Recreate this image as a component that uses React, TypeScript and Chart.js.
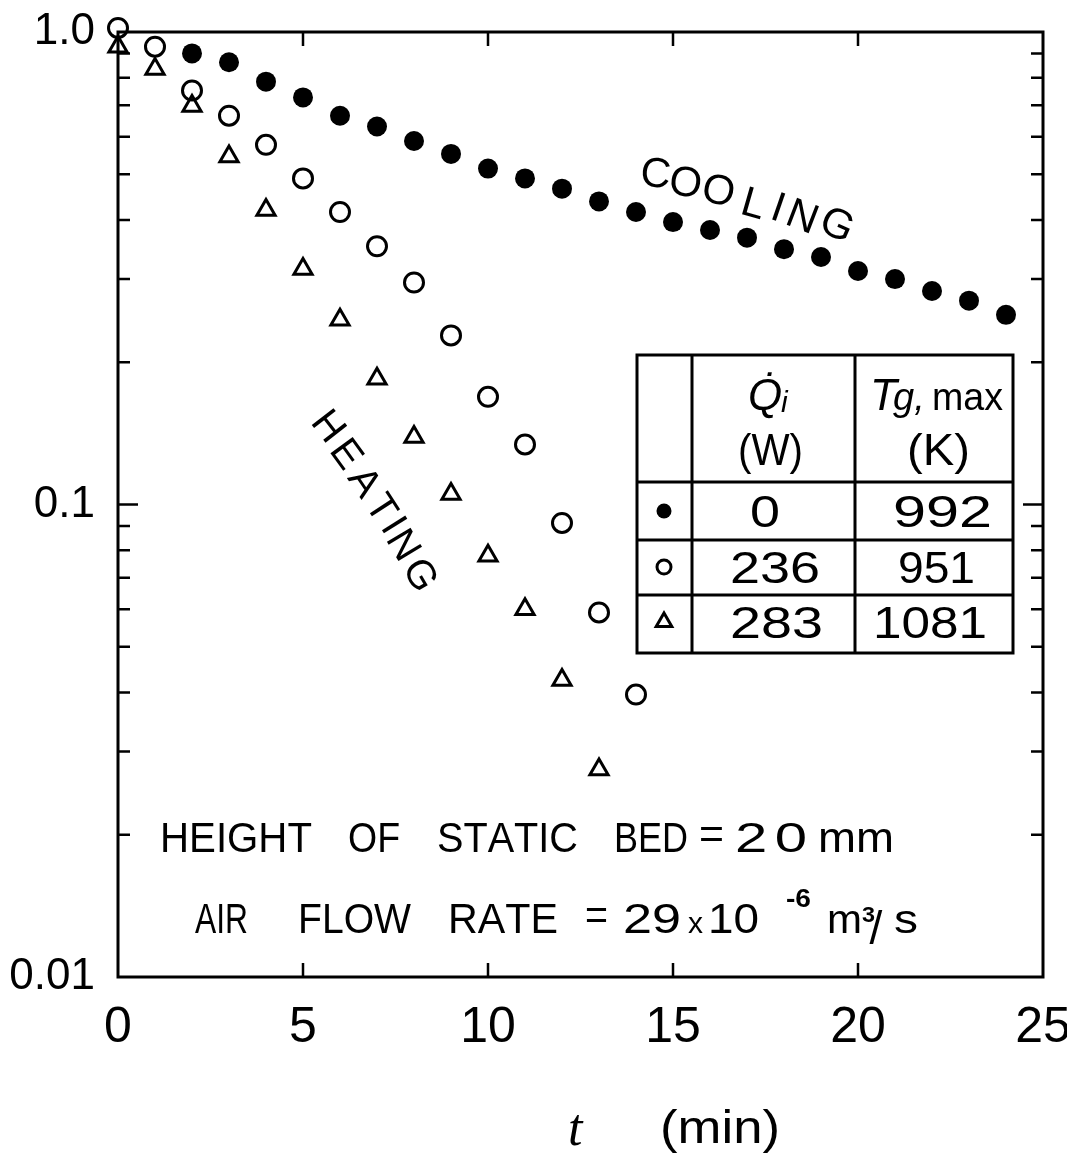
import React, { useEffect, useRef } from 'react';
import { Chart, registerables } from 'chart.js';

Chart.register(...registerables);

// ---- data ----
const coolingMinutes = [2, 3, 4, 5, 6, 7, 8, 9, 10, 11, 12, 13, 14, 15, 16, 17, 18, 19, 20, 21, 22, 23, 24];
const coolingRatio = [0.901, 0.863, 0.785, 0.727, 0.665, 0.631, 0.588, 0.552, 0.514, 0.49, 0.466, 0.438, 0.416, 0.396, 0.381, 0.367, 0.347, 0.334, 0.312, 0.3, 0.283, 0.27, 0.252];

const heat236Minutes = [0, 1, 2, 3, 4, 5, 6, 7, 8, 9, 10, 11, 12, 13, 14];
const heat236Ratio = [1.02, 0.931, 0.752, 0.665, 0.577, 0.49, 0.416, 0.352, 0.295, 0.228, 0.169, 0.134, 0.0914, 0.0591, 0.0396];

const heat283Minutes = [0, 1, 2, 3, 4, 5, 6, 7, 8, 9, 10, 11, 12, 13];
const heat283Ratio = [0.931, 0.835, 0.697, 0.545, 0.42, 0.315, 0.246, 0.1845, 0.139, 0.1053, 0.0779, 0.06, 0.0425, 0.0275];

const xTicks = [0, 5, 10, 15, 20, 25];
const xInnerTicks = [5, 10, 15, 20];
const yTicks = [0.01, 0.1, 1];
const yTickLabels = ['0.01', '0.1', '1.0'];
const yMinorTicks = [0.02, 0.03, 0.04, 0.05, 0.06, 0.07, 0.08, 0.09, 0.2, 0.3, 0.4, 0.5, 0.6, 0.7, 0.8, 0.9];

const legendHeatInput = ['0', '236', '283']; // Q̇i (W)
const legendGasMax = ['992', '951', '1081']; // Tg,max (K)

const FAMILY = '"Liberation Sans", Arial, sans-serif';
const f = (size: number, style = '') => `${style} ${size}px ${FAMILY}`.trim();

function fitText(ctx: CanvasRenderingContext2D, text: string, x0: number, x1: number, baseline: number, font: string, maxStretch = 1.35) {
  ctx.font = font;
  ctx.textAlign = 'left';
  ctx.textBaseline = 'alphabetic';
  const chars = Array.from(text);
  const widths = chars.map((c) => ctx.measureText(c).width);
  const total = widths.reduce((s, w) => s + w, 0);
  const target = x1 - x0;
  const ratio = target / total;
  const sx = ratio >= 1 ? Math.min(ratio, maxStretch) : ratio;
  const gap = chars.length > 1 ? (target - total * sx) / (chars.length - 1) : 0;
  let x = chars.length > 1 ? x0 : x0 + (target - total * sx) / 2;
  chars.forEach((c, i) => {
    ctx.save();
    ctx.translate(x, baseline);
    ctx.scale(sx, 1);
    ctx.fillText(c, 0, 0);
    ctx.restore();
    x += widths[i] * sx + gap;
  });
}

function rotatedLetters(ctx: CanvasRenderingContext2D, text: string, centers: number[][], angles: number[], size: number) {
  ctx.font = f(size);
  ctx.textAlign = 'center';
  ctx.textBaseline = 'alphabetic';
  Array.from(text).forEach((ch, i) => {
    ctx.save();
    ctx.translate(centers[i][0], centers[i][1]);
    ctx.rotate((angles[i] * Math.PI) / 180);
    ctx.fillText(ch, 0, size * 0.358);
    ctx.restore();
  });
}

const annotationPlugin = {
  id: 'figureAnnotations',
  afterDraw(chart: any) {
    const { ctx, chartArea: a, scales } = chart;
    const xs = scales.x;
    const ys = scales.y;
    ctx.save();
    ctx.strokeStyle = '#000';
    ctx.fillStyle = '#000';

    // frame
    ctx.lineWidth = 3;
    ctx.strokeRect(a.left, a.top, a.right - a.left, a.bottom - a.top);

    // inward ticks
    ctx.lineWidth = 2.5;
    ctx.beginPath();
    yMinorTicks.forEach((v) => {
      const py = ys.getPixelForValue(v);
      ctx.moveTo(a.left, py);
      ctx.lineTo(a.left + 12, py);
      ctx.moveTo(a.right, py);
      ctx.lineTo(a.right - 12, py);
    });
    const pMajor = ys.getPixelForValue(0.1);
    ctx.moveTo(a.left, pMajor);
    ctx.lineTo(a.left + 20, pMajor);
    ctx.moveTo(a.right, pMajor);
    ctx.lineTo(a.right - 20, pMajor);
    xInnerTicks.forEach((v) => {
      const px = xs.getPixelForValue(v);
      ctx.moveTo(px, a.bottom);
      ctx.lineTo(px, a.bottom - 14);
      ctx.moveTo(px, a.top);
      ctx.lineTo(px, a.top + 14);
    });
    ctx.stroke();

    // legend table
    const tl = 637, tr = 1013, tt = 355, tb = 653;
    const cols = [692, 855];
    const rows = [482, 540, 595];
    ctx.fillStyle = '#fff';
    ctx.fillRect(tl, tt, tr - tl, tb - tt);
    ctx.fillStyle = '#000';
    ctx.lineWidth = 3;
    ctx.strokeRect(tl, tt, tr - tl, tb - tt);
    ctx.beginPath();
    cols.forEach((c) => { ctx.moveTo(c, tt); ctx.lineTo(c, tb); });
    rows.forEach((r) => { ctx.moveTo(tl, r); ctx.lineTo(tr, r); });
    ctx.stroke();

    // header
    ctx.textAlign = 'left';
    ctx.textBaseline = 'alphabetic';
    ctx.font = f(44, 'italic');
    ctx.fillText('Q\u0307', 748, 410);
    ctx.font = f(30, 'italic');
    ctx.fillText('i', 781, 412);
    fitText(ctx, '(W)', 738, 803, 465, f(44));
    ctx.font = f(44, 'italic');
    ctx.fillText('T', 870, 410);
    ctx.font = f(38, 'italic');
    ctx.fillText('g,', 893, 410);
    fitText(ctx, 'max', 932, 1003, 410, f(38));
    fitText(ctx, '(K)', 907, 970, 465, f(44));

    // row symbols
    const symX = 664;
    const symY = [511, 567, 622];
    ctx.beginPath();
    ctx.arc(symX, symY[0], 7.5, 0, Math.PI * 2);
    ctx.fill();
    ctx.lineWidth = 3;
    ctx.beginPath();
    ctx.arc(symX, symY[1], 7, 0, Math.PI * 2);
    ctx.stroke();
    const r = 9;
    ctx.beginPath();
    ctx.moveTo(symX, symY[2] - r);
    ctx.lineTo(symX + r * 0.866, symY[2] + r / 2);
    ctx.lineTo(symX - r * 0.866, symY[2] + r / 2);
    ctx.closePath();
    ctx.stroke();

    // row values
    const baselines = [527, 583, 638];
    const qSpans = [[750, 780], [730, 820], [730, 823]];
    const tSpans = [[893, 992], [898, 975], [873, 987]];
    legendHeatInput.forEach((v, i) => fitText(ctx, v, qSpans[i][0], qSpans[i][1], baselines[i], f(44)));
    legendGasMax.forEach((v, i) => fitText(ctx, v, tSpans[i][0], tSpans[i][1], baselines[i], f(44)));

    // COOLING / HEATING labels
    rotatedLetters(ctx, 'COOLING',
      [[656, 172], [686, 181], [719, 189], [754, 202], [779, 206], [803, 215], [838, 223]],
      [6, 9, 13, 16, 19, 21, 24], 42);
    rotatedLetters(ctx, 'HEATING',
      [[330, 425], [348, 453], [366, 481], [383, 507], [395, 524], [405, 544], [422, 574]],
      [52, 54, 56, 57, 58, 59, 60], 40);

    // experimental conditions
    const l1 = 852;
    fitText(ctx, 'HEIGHT', 160, 312, l1, f(43));
    fitText(ctx, 'OF', 348, 400, l1, f(43));
    fitText(ctx, 'STATIC', 437, 578, l1, f(43));
    fitText(ctx, 'BED', 614, 688, l1, f(43));
    fitText(ctx, '=', 699, 724, l1 - 4, f(43));
    fitText(ctx, '20', 735, 807, l1, f(43));
    fitText(ctx, 'mm', 818, 894, l1, f(43));

    const l2 = 933;
    fitText(ctx, 'AIR', 195, 248, l2, f(43));
    fitText(ctx, 'FLOW', 298, 411, l2, f(43));
    fitText(ctx, 'RATE', 448, 558, l2, f(43));
    fitText(ctx, '=', 585, 608, l2 - 4, f(43));
    fitText(ctx, '29', 623, 681, l2, f(43));
    fitText(ctx, 'x', 688, 703, l2, f(30));
    fitText(ctx, '10', 708, 759, l2, f(43));
    fitText(ctx, '-6', 786, 811, 907, f(26, 'bold'));
    fitText(ctx, 'm', 827, 862, l2, f(40));
    fitText(ctx, '3', 862, 875, 922, f(22, 'bold'));
    fitText(ctx, '/', 864, 888, 944, f(46), 1);
    fitText(ctx, 's', 894, 918, l2, f(40));

    // axis title
    ctx.textAlign = 'left';
    ctx.font = 'italic 52px "Liberation Serif", serif';
    ctx.fillText('t', 568, 1145);
    fitText(ctx, '(min)', 660, 780, 1143, f(46));

    ctx.restore();
  },
};

export default function App() {
  const canvasRef = useRef<HTMLCanvasElement | null>(null);

  useEffect(() => {
    document.body.style.margin = '0';
    document.body.style.overflow = 'hidden';
    const canvas = canvasRef.current;
    if (!canvas) return;
    const chart = new Chart(canvas, {
      type: 'scatter',
      data: {
        datasets: [
          {
            label: 'Q̇i = 0 W (cooling)',
            data: coolingMinutes.map((t, i) => ({ x: t, y: coolingRatio[i] })),
            pointStyle: 'circle',
            pointRadius: 10,
            backgroundColor: '#000',
            borderColor: '#000',
            borderWidth: 0,
            showLine: false,
            clip: false,
          },
          {
            label: 'Q̇i = 236 W',
            data: heat236Minutes.map((t, i) => ({ x: t, y: heat236Ratio[i] })),
            pointStyle: 'circle',
            pointRadius: 9.5,
            backgroundColor: 'rgba(255,255,255,0)',
            borderColor: '#000',
            borderWidth: 3,
            showLine: false,
            clip: false,
          },
          {
            label: 'Q̇i = 283 W',
            data: heat283Minutes.map((t, i) => ({ x: t, y: heat283Ratio[i] })),
            pointStyle: 'triangle',
            pointRadius: 10.5,
            backgroundColor: 'rgba(255,255,255,0)',
            borderColor: '#000',
            borderWidth: 3,
            showLine: false,
            clip: false,
          },
        ],
      },
      options: {
        responsive: false,
        animation: false,
        devicePixelRatio: 1,
        layout: { padding: { left: 0, top: 32, right: 24, bottom: 0 } },
        plugins: { legend: { display: false }, tooltip: { enabled: false } },
        scales: {
          x: {
            type: 'linear',
            min: 0,
            max: 25,
            grid: { display: false, drawTicks: false },
            border: { display: false },
            ticks: {
              color: '#000',
              font: { family: FAMILY, size: 50 },
              padding: 21,
              maxRotation: 0,
              autoSkip: false,
            },
            afterBuildTicks: (s: any) => { s.ticks = xTicks.map((v) => ({ value: v })); },
            afterFit: (s: any) => { s.height = 178; s.paddingLeft = 0; s.paddingRight = 0; },
          },
          y: {
            type: 'logarithmic',
            min: 0.01,
            max: 1,
            grid: { display: false, drawTicks: false },
            border: { display: false },
            ticks: {
              color: '#000',
              font: { family: FAMILY, size: 44 },
              padding: 23,
              autoSkip: false,
              callback: (v: any) => {
                const i = yTicks.indexOf(Number(v));
                return i >= 0 ? yTickLabels[i] : '';
              },
            },
            afterBuildTicks: (s: any) => { s.ticks = yTicks.map((v) => ({ value: v })); },
            afterFit: (s: any) => { s.width = 118; s.paddingTop = 0; s.paddingBottom = 0; },
          },
        },
      } as any,
      plugins: [annotationPlugin],
    });
    return () => chart.destroy();
  }, []);

  return (
    <div style={{ position: 'absolute', left: 0, top: 0, width: 1067, height: 1155, background: '#fff' }}>
      <canvas ref={canvasRef} width={1067} height={1155} style={{ display: 'block' }} />
    </div>
  );
}
